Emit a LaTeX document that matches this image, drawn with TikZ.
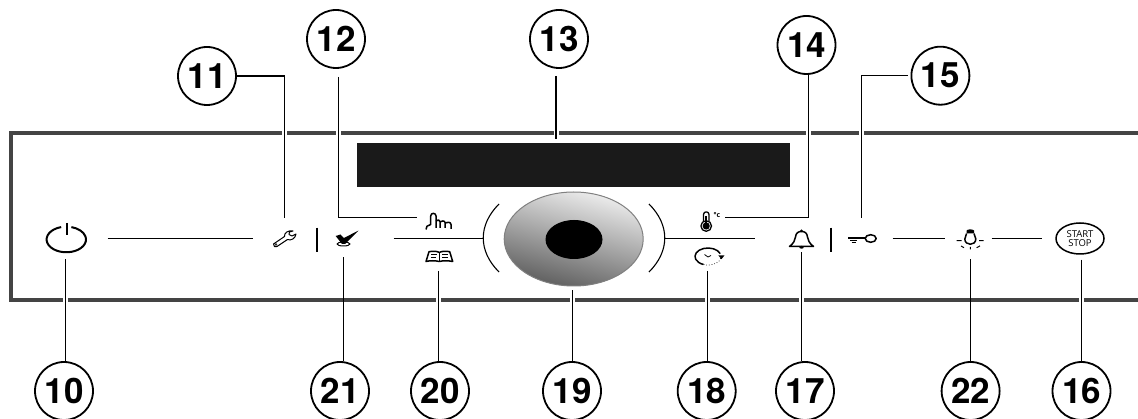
\documentclass[tikz,border=0pt]{standalone}
\usepackage{fontspec}
\usepackage{xcolor}
\setmainfont{TeX Gyre Heros}
\newfontfamily\panelfont{Open Sans}
\usetikzlibrary{shapes.geometric}
\definecolor{framegray}{HTML}{444444}
\definecolor{displayblack}{HTML}{1A1A1A}
\definecolor{dialdark}{HTML}{5E5E5E}
\definecolor{diallight}{HTML}{EEEEEE}

\begin{document}
\begin{tikzpicture}[
  x=1pt, y=-1pt,
  callout/.style={
    circle, draw, line width=1.8pt, minimum size=58pt, inner sep=0pt,
    font=\fontsize{35}{35}\selectfont\bfseries
  },
  icon/.style={inner sep=0pt, outer sep=0pt},
  plainline/.style={black, line width=1.2pt},
  leader/.style={plainline, preaction={draw=white, line width=5pt}},
  glyph/.style={black, line width=1.5pt, line join=round},
  divider/.style={black, line width=2pt}
]
\useasboundingbox (0,0) rectangle (1138,419);

\draw[framegray, line width=3.5pt] (1138,132.8) -| (11,300) -- (1138,300);

\node[fill=displayblack, minimum width=433pt, minimum height=44pt, inner sep=0pt] (display) at (573.5,165) {};
\node[ellipse, draw=gray, line width=1pt, minimum width=139pt, minimum height=94pt, inner sep=0pt,
  shading=axis, top color=dialdark, bottom color=diallight, shading angle=165] (dial) at (573.7,239) {};
\node[ellipse, fill=black, minimum width=57pt, minimum height=39pt, inner sep=0pt] (dialcentre) at (574,239.5) {};
\node[ellipse, draw, line width=1.5pt, minimum width=48pt, minimum height=31pt, inner sep=0pt, align=center,
  font=\panelfont\fontsize{9.5}{9.5}\selectfont] (start) at (1080,238.5) {START\\STOP};
\node[icon, font=\panelfont\bfseries\fontsize{7}{7}\selectfont] (degree) at (717,215.5) {°c};

\coordinate (arcleft) at (484,238.5);
\coordinate (arcright) at (664,238.5);

\foreach \name/\cx/\cy/\w/\h in {
  power/65.5/238.5/84/42, wrench/284.5/238.5/64/40, check/343.5/238.5/100/38,
  hand/439/217.5/44/10, book/438.5/257/30/28, therm/708/217.5/34/10,
  clock/707.5/256/30/30, bell/801.5/238.5/93/28, key/861.5/238.5/62/40,
  lamp/970.5/238.5/42/42}{
  \node[icon, minimum width=\w pt, minimum height=\h pt] (\name) at (\cx,\cy) {};
}

\foreach \num/\cx/\cy in {
  11/207/76, 12/336/39, 13/559/39, 14/806.5/45, 15/940.4/75.7,
  10/64/391, 21/340/391, 20/440/391, 19/572/391, 18/706.7/391,
  17/805/391, 22/970.6/391, 16/1081.5/391}{
  \node[callout] (n\num) at (\cx,\cy) {\num};
}

\coordinate (top12) at ([xshift=2.5pt,yshift=-8pt]n12.south);
\coordinate (top13) at ([xshift=-3pt,yshift=-7pt]n13.south);
\coordinate (top14) at ([xshift=2pt]n14.south);
\coordinate (low19) at ([xshift=-1pt,yshift=-4pt]dial.south);
\coordinate (low16) at ([xshift=1.5pt,yshift=-5pt]start.south);

\draw[leader] (n11.east) -| (wrench.north);
\draw[leader] (top12) |- (hand.west);
\draw[leader, shorten >=4pt] (top13) -- (top13 |- display.north);
\draw[leader] (top14) |- (therm.east);
\draw[leader, shorten <=3pt] (n15.west) -| (key.north);

\foreach \a/\b in {power/n10, book/n20, clock/n18, bell/n17}{
  \draw[leader] (\a.south) -- (\a.south |- \b.north);
}
\draw[leader] (low19) -- (low19 |- n19.north);
\draw[leader] (low16) -- (low16 |- n16.north);
\foreach \a/\b in {check/n21, lamp/n22}{
  \draw[plainline] (\a.south) -- (\a.south |- \b.north);
}

\draw[plainline] (power.east) -- (wrench.west);
\draw[plainline] (check.east) -- (arcleft);
\draw[plainline] (arcright) -- (bell.west);
\draw[plainline, shorten >=5pt] (key.east) -- (lamp.west);
\draw[plainline, shorten >=13pt] (lamp.east) -- (start.west);

\draw[black, line width=1.1pt] (499,204) .. controls (478,225) and (478,251) .. (499,272);
\draw[black, line width=1.1pt] (649,204) .. controls (670,225) and (670,251) .. (649,272);

\draw[divider] (316.7,227.7) -- (316.7,251.7);
\draw[divider] (831,227.7) -- (831,251.7);

\draw[glyph, line width=2pt] (61.2,227.1) arc[start angle=105, end angle=435, x radius=19.7pt, y radius=12.8pt];
\draw[glyph, line width=2pt] (66.7,223) -- (66.7,235);

\draw[glyph, line width=1pt] (273.5,244) .. controls (273,246.5) and (275.5,247.5) .. (277,246.5)
  -- (287.5,239.5) .. controls (291,241) and (295.5,238.5) .. (296,234) -- (292,236) -- (289,234.5)
  -- (289.5,232) -- (293,231) .. controls (288,230) and (284,233) .. (284.5,236.5) -- cycle;
\draw[glyph, line width=0.5pt] (276,244.5) circle[radius=1pt];

\fill[black] (335.7,236) -- (340.5,234.5) -- (343.8,238) -- (358.3,230.7) -- (345,244) -- (342,244) -- cycle;
\draw[glyph, line width=1pt] (343.5,244) ellipse[x radius=6.5pt, y radius=2pt];

\draw[glyph] (426,229.5) .. controls (425,226.5) and (428,225.5) .. (430.7,224.5) -- (430.7,216)
  .. controls (430.7,212.5) and (436,212.5) .. (436,216) -- (436,228);
\draw[glyph] (436,221) .. controls (437,219.5) and (440,219.5) .. (440,221.5) -- (440,228);
\draw[glyph] (440,222) .. controls (441,220.5) and (445,220.5) .. (445,222.5) -- (445,228);
\draw[glyph] (445,223) .. controls (447,221.5) and (451,222) .. (451,224.5) -- (451,229);

\draw[glyph] (426,261.5) -- (429,251.7) .. controls (433,251) and (437,251) .. (439.3,252.5)
  .. controls (442,251) and (446,251) .. (449.7,251.7) -- (452.7,261.5)
  .. controls (448,260.5) and (443,260.5) .. (439.3,261.5) .. controls (435,260.5) and (430,260.5) .. (426,261.5) -- cycle;
\draw[glyph] (439.3,252.5) -- (439.3,261.5);
\draw[glyph, line width=0.8pt] (431,254.7) -- (437,254.7) (430.5,257.5) -- (436,257.5)
  (442,254.7) -- (448,254.7) (442,257.5) -- (447.5,257.5);

\draw[glyph, line width=1.3pt] (703.5,221.5) -- (703.5,214.5) .. controls (703.5,211) and (709,211) .. (709,214.5) -- (709,221.5);
\draw[glyph, line width=1.3pt] (706.2,226) circle[radius=5.3pt];
\fill[black] (706.2,226) circle[radius=3.6pt];
\draw[black, line width=1.6pt] (706.2,216) -- (706.2,224);

\draw[glyph] (720.2,253.6) arc[start angle=20, end angle=250, x radius=13pt, y radius=8.5pt];
\draw[black, line width=0.7pt, dotted] (703.6,264.5) arc[start angle=250, end angle=350, x radius=13pt, y radius=8.5pt];
\fill[black] (718.3,255.3) -- (724.5,255.3) -- (721.5,259.2) -- cycle;
\draw[glyph, line width=0.8pt] (704.5,254.5) -- (708,257) -- (711,255.5);

\draw[glyph] (789.5,246.5) .. controls (794,243) and (795,240) .. (795.5,237)
  .. controls (796,233) and (798,231.5) .. (801.5,231.5)
  .. controls (805,231.5) and (807,233) .. (807.5,237)
  .. controls (808,240) and (809,243) .. (813.5,246.5) -- cycle;
\fill[black] (801.5,230.8) circle[radius=1.4pt];
\fill[black] (801.5,247.3) ellipse[x radius=2.2pt, y radius=1.4pt];

\draw[glyph] (870.7,238.5) ellipse[x radius=5.5pt, y radius=3.8pt];
\draw[black, line width=2pt] (848,237.7) -- (865,237.7);
\draw[black, line width=1.2pt] (850,240.2) -- (857,240.2) (851.5,242.5) -- (856,242.5);

\fill[black] (966.6,233.5) -- (966.6,230.5) .. controls (967.5,229) and (973,229) .. (974,230.5) -- (974,233.5) -- cycle;
\draw[glyph] (966.6,233.5) .. controls (966,235.5) and (964.8,236.5) .. (964.8,239)
  .. controls (964.8,246) and (975.8,246) .. (975.8,239) .. controls (975.8,236.5) and (974.6,235.5) .. (974,233.5);
\draw[glyph, line width=1pt] (956.7,240.7) -- (961.7,240.7) (979,240.7) -- (983.7,240.7)
  (961,246) -- (964,247.7) (970.3,246.9) -- (970.3,249.3) (976.7,247.7) -- (980,245.9);
\end{tikzpicture}
\end{document}
